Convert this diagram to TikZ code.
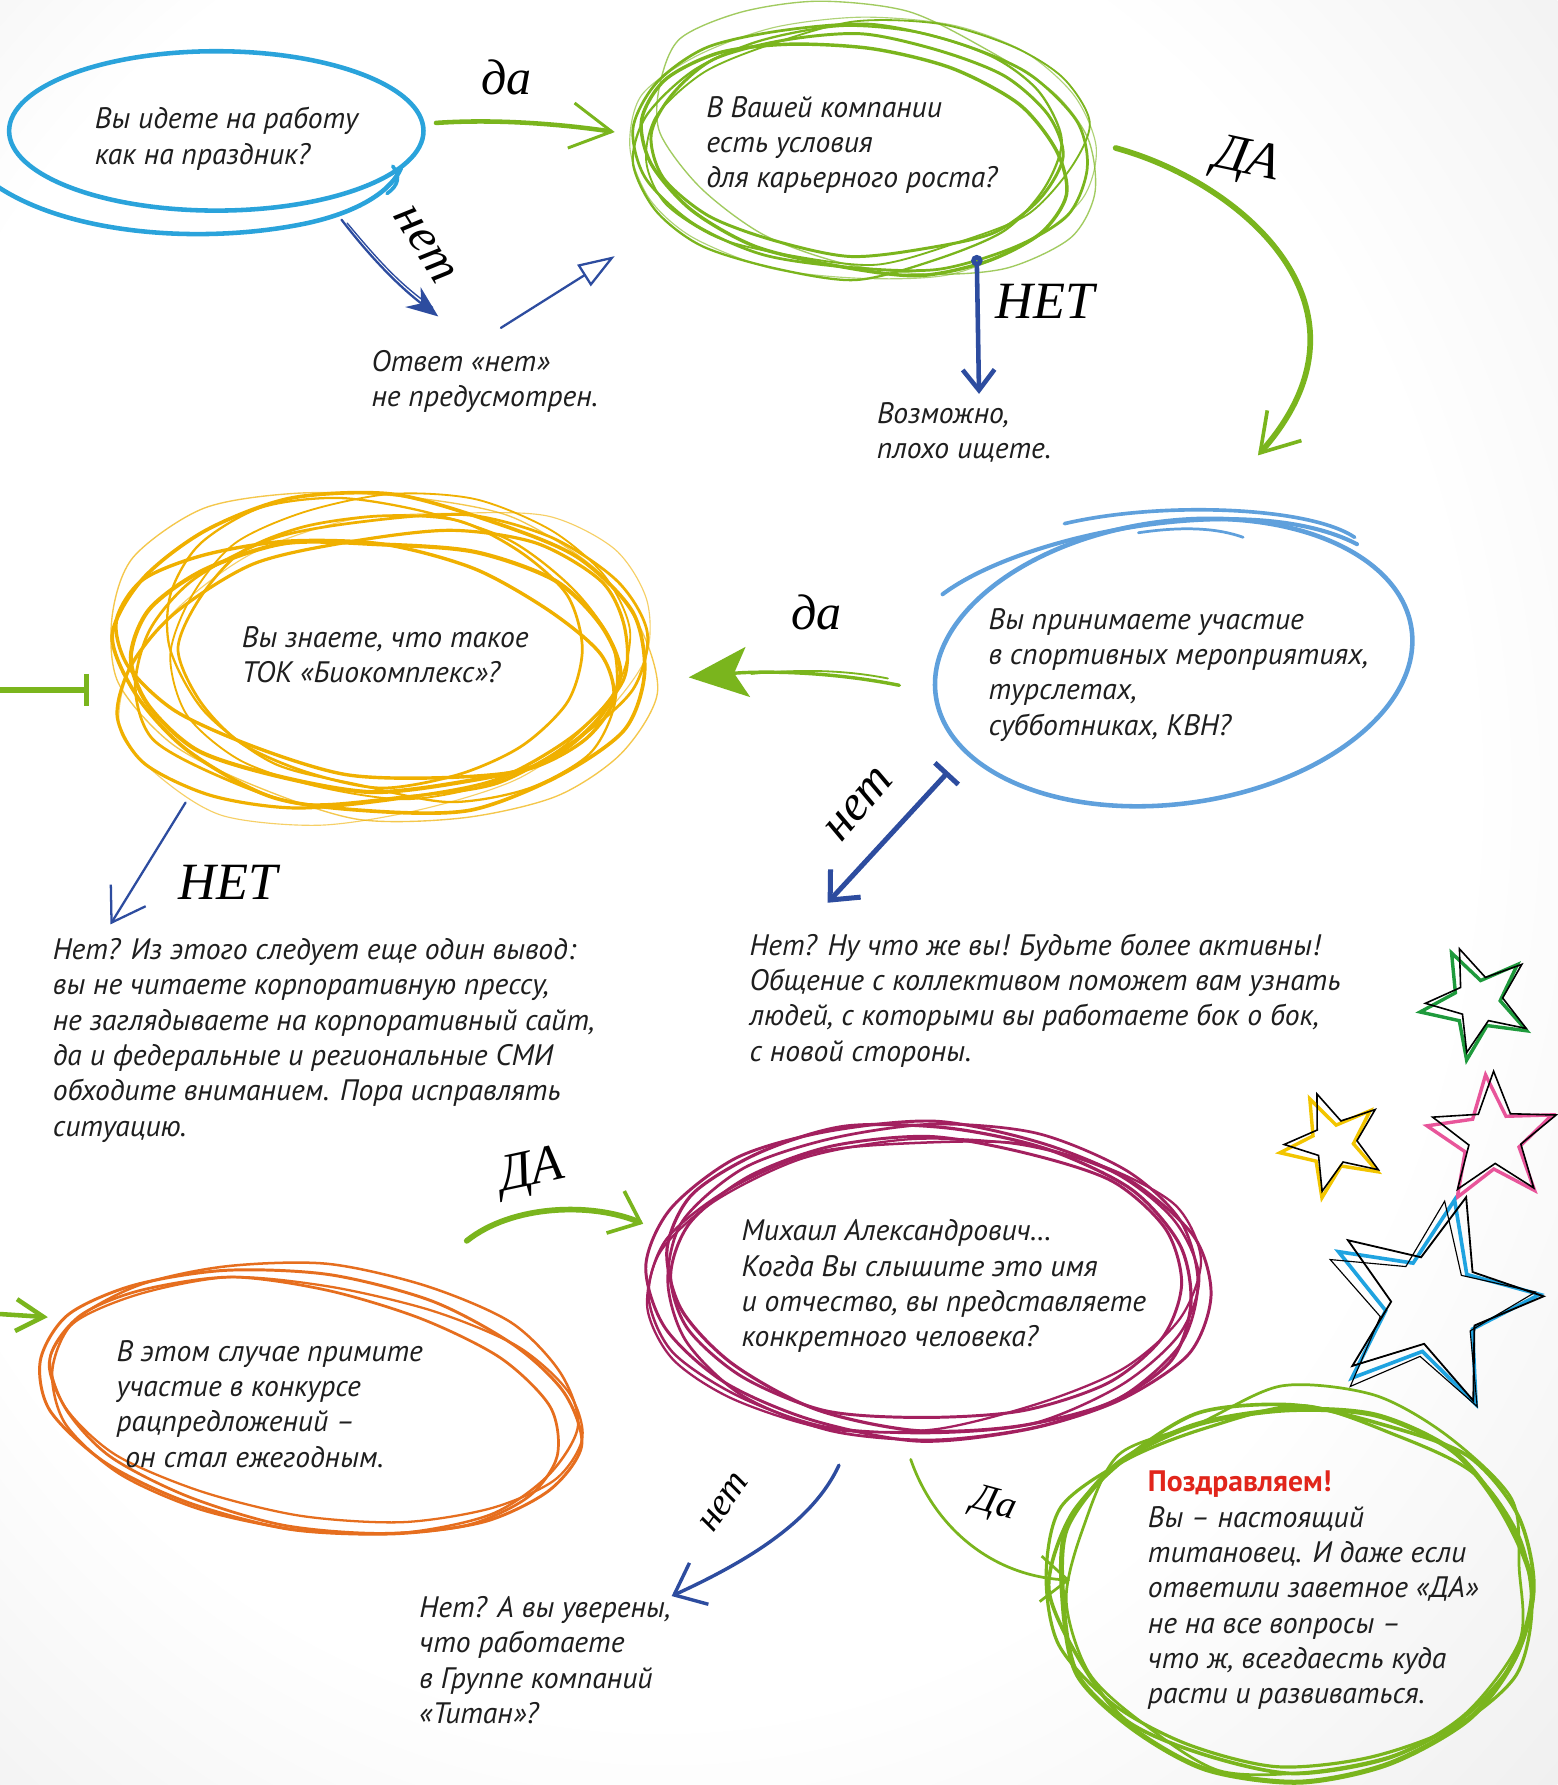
\documentclass[tikz,border=0pt]{standalone}
\usepackage{fontspec}
\setmainfont{PT Sans}
\newfontfamily\handfont{Liberation Serif}
\usetikzlibrary{arrows.meta,calc}
\definecolor{cgreen}{HTML}{7AB51D}
\definecolor{cblue}{HTML}{2AA3DB}
\definecolor{cbluetwo}{HTML}{5FA0DC}
\definecolor{cnavy}{HTML}{2D4C9F}
\definecolor{cyellow}{HTML}{F0B000}
\definecolor{corange}{HTML}{E66E1E}
\definecolor{cmaroon}{HTML}{A3205F}
\definecolor{cred}{HTML}{E1251B}
\definecolor{ctext}{HTML}{1E1E1E}
\definecolor{cstargreen}{HTML}{1E9A3C}
\definecolor{cstaryellow}{HTML}{F2C500}
\definecolor{cstarpink}{HTML}{E8559A}
\definecolor{cstarblue}{HTML}{1FA3E0}
\pgfdeclareradialshading{bgsh}{\pgfpoint{-8bp}{6bp}}{color(0bp)=(white);color(26bp)=(white);color(50bp)=(black!12)}
\newcommand\loopy[7][]{%
  \draw[#1, rotate around={#6:(#2,#3)}] plot[smooth cycle, variable=\t, samples=16, domain=0:337.5]
    ({#2+(#4+#7*rand)*cos(\t)},{#3+(#5+#7*rand)*sin(\t)});}
\newcommand\mystar[6][]{%
  \draw[#1, shift={(#2,#3)}, line join=miter] (#6:#4)
    \foreach \k in {0,...,4} { -- ({#6+72*\k+36}:#5) -- ({#6+72*\k+72}:#4) } -- cycle;}
\begin{document}
\begin{tikzpicture}[x=0.5pt,y=-0.5pt,
  txt/.style={font=\fontsize{13}{15.5}\selectfont\itshape, text=ctext, align=left, anchor=north west, inner sep=0pt},
  hand/.style={font=\handfont\itshape\fontsize{22}{22}\selectfont, text=black, inner sep=0pt},
  smallhand/.style={font=\handfont\itshape\fontsize{17}{17}\selectfont, text=black, inner sep=0pt},
  bighand/.style={font=\handfont\itshape\fontsize{23}{23}\selectfont, text=black, inner sep=0pt},
  gar/.style={cgreen, line cap=round},
  nar/.style={cnavy, line cap=round}]
\useasboundingbox (0,0) rectangle (1368,1568);
\shade[shading=bgsh] (0,0) rectangle (1368,1568);
\pgfmathsetseed{7}

% ---------- question 1 (blue) ----------
\draw[cblue, line width=2pt] (190,115) ellipse [x radius=182, y radius=70];
\draw[cblue, line width=2pt, line cap=round] (-5,162) .. controls (60,207) and (180,215) .. (270,196) .. controls (320,185) and (345,165) .. (352,148);
\draw[cblue, line width=1.6pt, line cap=round] (345,146) .. controls (352,155) and (350,163) .. (340,170);
\node[txt] (q1) at (83,94) {Вы идете на работу\\как на праздник?};

% ---------- question 2 (green scribble) ----------
\begin{scope}[cgreen]
\loopy[line width=1.2pt]{755}{130}{200}{108}{-5}{4}
\loopy[line width=0.8pt]{760}{125}{195}{104}{5}{4}
\loopy[line width=1.5pt]{750}{138}{188}{98}{-10}{3}
\loopy[line width=0.6pt, opacity=.7]{770}{122}{200}{112}{-14}{5}
\loopy[line width=1pt]{745}{133}{186}{110}{3}{4}
\loopy[line width=0.5pt, opacity=.6]{757}{130}{206}{116}{0}{5}
\loopy[line width=1.3pt]{752}{128}{180}{96}{-3}{3}
\end{scope}
\node[txt] (q2) at (620,84) {В Вашей компании\\есть условия\\для карьерного роста?};

% arrow q1 -> q2 (да)
\coordinate (a1s) at (383,108);
\coordinate (a1e) at (540,116);
\draw[gar, line width=2pt, -{Straight Barb[length=18pt,width=20pt,line width=1.3pt]}] (a1s) .. controls (440,104) and (500,110) .. (a1e);
\node[hand] (l1) at (445,68) {да};

% arrow q1 -> r1 (нет)
\coordinate (a2s) at (300,193);
\coordinate (a2e) at (385,278);
\draw[nar, line width=1pt, -{Stealth[length=14pt,width=11pt]}] (a2s) .. controls (330,232) and (355,255) .. (a2e);
\draw[nar, line width=0.6pt] (305,196) .. controls (335,232) and (352,250) .. (380,270);
\node[hand, rotate=-58] (l2) at (373,215) {нет};
\node[txt] (r1) at (326,307) {Ответ «нет»\\не предусмотрен.};

% arrow r1 -> q2
\coordinate (a3s) at (440,288);
\coordinate (a3e) at (540,225);
\draw[nar, line width=1pt, -{Triangle[open,length=16pt,width=11pt]}] (a3s) -- (a3e);

% arrow q2 -> r2 (НЕТ)
\coordinate (a4s) at (858,224);
\coordinate (a4e) at (860,346);
\draw[nar, line width=2pt, {Circle[open,length=5pt,width=5pt]}-{Straight Barb[length=9pt,width=14pt]}] (a4s) -- (a4e);
\node[bighand] (l4) at (918,265) {НЕТ};
\node[txt] (r2) at (770,353) {Возможно,\\плохо ищете.};

% arrow q2 -> q3 (ДА)
\coordinate (a5s) at (980,130);
\coordinate (a5e) at (1105,400);
\draw[gar, line width=2.5pt, -{Straight Barb[length=16pt,width=20pt,line width=1.6pt]}] (a5s) .. controls (1090,160) and (1220,270) .. (a5e);
\node[bighand, rotate=-12] (l5) at (1095,142) {ДА};

% ---------- question 3 (blue) ----------
\draw[cbluetwo, line width=2pt, rotate around={8:(1031,582)}] (1031,582) ellipse [x radius=211, y radius=124];
\draw[cbluetwo, line width=1.8pt, line cap=round] (828,522) .. controls (900,468) and (1100,430) .. (1192,478);
\draw[cbluetwo, line width=1.6pt, line cap=round] (935,460) .. controls (1020,440) and (1150,445) .. (1190,472);
\draw[cbluetwo, line width=1.2pt, line cap=round] (1000,468) .. controls (1040,462) and (1070,464) .. (1092,472);
\node[txt] (q3) at (868,534) {Вы принимаете участие\\в спортивных мероприятиях,\\турслетах,\\субботниках, КВН?};

% arrow q3 -> q4 (да)
\coordinate (a6s) at (790,602);
\coordinate (a6e) at (605,595);
\draw[gar, line width=1.5pt, -{Stealth[length=26pt,width=22pt,inset=6pt]}] (a6s) .. controls (720,588) and (660,590) .. (a6e);
\draw[gar, line width=0.8pt] (780,596) .. controls (740,588) and (700,588) .. (660,592);
\node[hand] (l6) at (717,538) {да};

% arrow q3 -> r4 (нет)
\coordinate (a7s) at (833,678);
\coordinate (a7e) at (727,793);
\draw[nar, line width=2.2pt, {Bar[width=14pt]}-{Straight Barb[length=10pt,width=18pt]}] (a7s) -- (a7e);
\node[hand, rotate=50] (l7) at (755,707) {нет};
\node[txt] (r4) at (658,820) {Нет? Ну что же вы! Будьте более активны!\\Общение с коллективом поможет вам узнать\\людей, с которыми вы работаете бок о бок,\\с новой стороны.};

% ---------- question 4 (yellow scribble) ----------
\begin{scope}[cyellow]
\loopy[line width=1.6pt]{335}{575}{232}{138}{-4}{5}
\loopy[line width=1.2pt]{340}{580}{225}{125}{6}{5}
\loopy[line width=1.8pt]{330}{585}{215}{110}{-2}{4}
\loopy[line width=0.6pt, opacity=.7]{335}{575}{242}{145}{-8}{5}
\loopy[line width=1pt]{345}{570}{205}{128}{-14}{5}
\loopy[line width=1.4pt]{328}{590}{228}{118}{10}{5}
\loopy[line width=0.8pt]{350}{565}{200}{135}{3}{6}
\loopy[line width=1.5pt]{320}{580}{220}{100}{-9}{4}
\loopy[line width=0.5pt, opacity=.6]{340}{585}{238}{130}{14}{5}
\loopy[line width=1.2pt]{335}{570}{175}{120}{0}{4}
\end{scope}
\node[txt] (q4) at (212,550) {Вы знаете, что такое\\ТОК «Биокомплекс»?};

\coordinate (a8s) at (-5,606);
\coordinate (a8e) at (78,606);
\draw[cgreen, line width=2.5pt, -{Bar[width=14pt,line width=2pt]}] (a8s) -- (a8e);

% arrow q4 -> r3 (НЕТ)
\coordinate (a9s) at (163,705);
\coordinate (a9e) at (97,812);
\draw[nar, line width=1pt, -{Straight Barb[length=14pt,width=18pt]}] (a9s) -- (a9e);
\node[bighand] (l9) at (200,775) {НЕТ};
\node[txt] (r3) at (46,824) {Нет? Из этого следует еще один вывод:\\вы не читаете корпоративную прессу,\\не заглядываете на корпоративный сайт,\\да и федеральные и региональные СМИ\\обходите вниманием. Пора исправлять\\ситуацию.};

% ---------- question 5 (orange) ----------
\begin{scope}[corange]
\loopy[line width=1.3pt]{272}{1232}{240}{112}{-9}{3}
\loopy[line width=1.1pt]{275}{1228}{232}{118}{-6}{3}
\loopy[line width=1.2pt]{268}{1236}{226}{106}{-11}{3}
\loopy[line width=1pt]{278}{1230}{236}{102}{-8}{3}
\end{scope}
\node[txt] (q5) at (102,1177) {В этом случае примите\\участие в конкурсе\\рацпредложений –\\\hspace{0.3em}он стал ежегодным.};

\coordinate (a10s) at (-20,1153);
\coordinate (a10e) at (42,1157);
\draw[cgreen, line width=2pt, -{Straight Barb[length=12pt,width=14pt]}] (a10s) -- (a10e);

% arrow q5 -> q6 (ДА)
\coordinate (a11s) at (410,1090);
\coordinate (a11e) at (565,1075);
\draw[gar, line width=2.5pt, -{Straight Barb[length=12pt,width=20pt,line width=1.6pt]}] (a11s) .. controls (450,1058) and (520,1056) .. (a11e);
\node[bighand, rotate=12] (l11) at (467,1030) {ДА};

% ---------- question 6 (maroon scribble) ----------
\begin{scope}[cmaroon]
\loopy[line width=1.3pt]{815}{1125}{248}{138}{-3}{4}
\loopy[line width=1.1pt]{812}{1130}{240}{130}{2}{4}
\loopy[line width=1.4pt]{818}{1122}{232}{134}{-6}{4}
\loopy[line width=1pt]{810}{1128}{244}{126}{5}{4}
\loopy[line width=1.2pt]{820}{1126}{236}{140}{0}{4}
\loopy[line width=1.3pt]{814}{1124}{226}{124}{-1}{3}
\end{scope}
\node[txt] (q6) at (651,1071) {Михаил Александрович…\\Когда Вы слышите это имя\\и отчество, вы представляете\\конкретного человека?};

% arrow q6 -> r5 (нет)
\coordinate (a12s) at (737,1287);
\coordinate (a12e) at (590,1402);
\draw[nar, line width=1.5pt, -{Straight Barb[length=12pt,width=20pt]}] (a12s) .. controls (715,1335) and (660,1370) .. (a12e);
\node[smallhand, rotate=55] (l12) at (636,1320) {нет};
\node[txt] (r5) at (368,1402) {Нет? А вы уверены,\\что работаете\\в Группе компаний\\«Титан»?};

% arrow q6 -> q7 (Да)
\coordinate (a13s) at (800,1282);
\coordinate (a13e) at (940,1388);
\draw[gar, line width=1.2pt, -{Straight Barb[length=12pt,width=20pt]}] (a13s) .. controls (820,1340) and (870,1385) .. (a13e);
\node[smallhand, rotate=-15] (l13) at (873,1322) {Да};

% ---------- final (green wobbly) ----------
\begin{scope}[cgreen]
\loopy[line width=1.6pt]{1135}{1395}{210}{162}{0}{9}
\loopy[line width=1.2pt]{1138}{1392}{204}{168}{4}{9}
\loopy[line width=1.4pt]{1132}{1398}{214}{158}{-4}{9}
\loopy[line width=2.2pt]{1135}{1400}{208}{164}{2}{7}
\end{scope}
\node[txt] (q7) at (1008,1292) {{\color{cred}\bfseries\upshape Поздравляем!}\\Вы – настоящий\\титановец. И даже если\\ответили заветное «ДА»\\не на все вопросы –\\что ж, всегдаесть куда\\расти и развиваться.};

% ---------- stars ----------
\mystar[cstargreen, line width=1.5pt]{1297}{882}{50}{21}{-116}
\mystar[black, line width=0.7pt]{1300}{878}{48}{20}{-112}
\mystar[cstaryellow, line width=1.5pt]{1170}{1007}{46}{19}{-115}
\mystar[black, line width=0.7pt]{1173}{1003}{45}{19}{-111}
\mystar[cstarpink, line width=1.5pt]{1310}{1002}{58}{25}{-95}
\mystar[black, line width=0.7pt]{1313}{998}{57}{24}{-91}
\mystar[cstarblue, line width=1.6pt]{1258}{1147}{95}{41}{-78}
\mystar[black, line width=0.8pt]{1262}{1142}{94}{40}{-74}
\mystar[black, line width=0.5pt]{1254}{1150}{96}{42}{-81}
\end{tikzpicture}
\end{document}
